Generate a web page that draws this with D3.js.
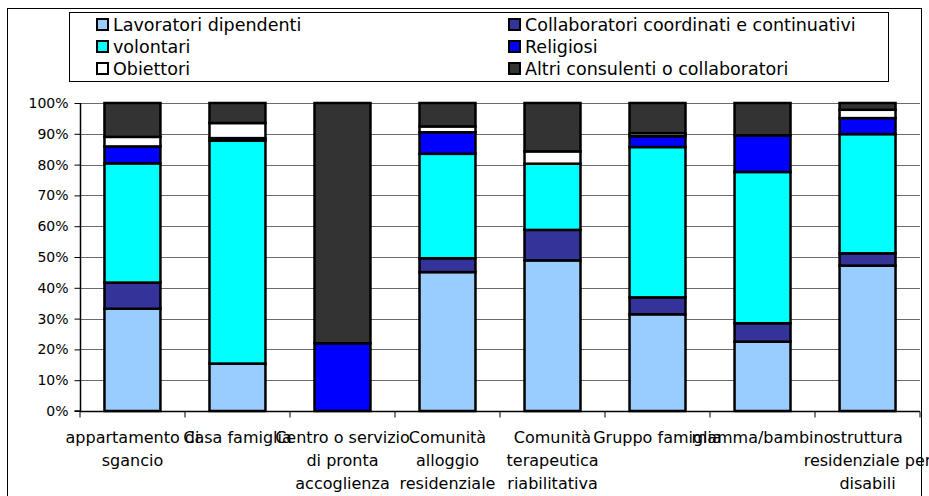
<!DOCTYPE html>
<html><head><meta charset="utf-8">
<script src="https://cdn.jsdelivr.net/npm/d3@7"></script>
<style>body{margin:0;background:#fff}svg{display:block}text{font-family:"DejaVu Sans",sans-serif}</style>
</head><body><svg id="c" width="929" height="496"></svg>
<script>
const categories = [
  ["appartamento di","sgancio"],
  ["Casa famiglia"],
  ["Centro o servizio","di pronta","accoglienza"],
  ["Comunità","alloggio","residenziale"],
  ["Comunità","terapeutica","riabilitativa"],
  ["Gruppo famiglia"],
  ["mamma/bambino"],
  ["struttura","residenziale per","disabili"]
];
const seriesNames = ["Lavoratori dipendenti","Collaboratori coordinati e continuativi","volontari","Religiosi","Obiettori","Altri consulenti o collaboratori"];
const seriesColors = ["#99CCFF","#333399","#00FFFF","#0000FF","#FFFFFF","#333333"];
const lavoratori    = [33.2, 15.4, 0, 45.1, 48.9, 31.4, 22.5, 47.2];
const collaboratori = [8.5, 0, 0, 4.5, 9.9, 5.5, 6.0, 4.0];
const volontari     = [38.7, 72.4, 0, 33.9, 21.5, 48.8, 49.1, 38.7];
const religiosi     = [5.5, 0.8, 22.0, 7.0, 0, 3.5, 11.9, 5.2];
const obiettori     = [3.1, 4.9, 0, 1.9, 4.0, 1.0, 0, 2.7];
const altri         = [11.0, 6.5, 78.0, 7.6, 15.7, 9.8, 10.5, 2.2];
const yTicks = [0,10,20,30,40,50,60,70,80,90,100];

const seriesValues = [lavoratori, collaboratori, volontari, religiosi, obiettori, altri];
const keys = seriesNames;
const rows = categories.map((c,i)=>{
  const r = {idx:i};
  keys.forEach((k,j)=> r[k]=seriesValues[j][i]);
  return r;
});
const stack = d3.stack().keys(keys).offset(d3.stackOffsetExpand)(rows);

const svg = d3.select("#c");
// outer frame
svg.append("rect").attr("x",7.5).attr("y",8.5).attr("width",914).attr("height",500)
  .attr("fill","none").attr("stroke","#000").attr("stroke-width",1);

const L=80,R=920,T=103,B=411;
const x = d3.scaleBand().domain(d3.range(categories.length)).range([L,R]).paddingInner(0.467).paddingOuter(0.233);
const xOuter = d3.scaleBand().domain(d3.range(categories.length)).range([L,R]);
const y = d3.scaleLinear().domain([0,1]).range([B,T]);

// gridlines
svg.append("g").selectAll("line").data(yTicks.filter(t=>t>0)).join("line")
  .attr("x1",L).attr("x2",R).attr("y1",d=>Math.round(y(d/100))+0.5).attr("y2",d=>Math.round(y(d/100))+0.5)
  .attr("stroke","#6b6b6b").attr("stroke-width",1);

// bars
const g = svg.append("g");
stack.forEach((s,j)=>{
  g.append("g").selectAll("rect").data(s.filter(d=>d[1]-d[0]>0)).join("rect")
    .attr("x",d=>x(d.data.idx)).attr("width",x.bandwidth())
    .attr("y",d=>y(d[1])).attr("height",d=>y(d[0])-y(d[1]))
    .attr("fill",seriesColors[j]).attr("stroke","#000").attr("stroke-width",2.5);
});

// y axis
const ya = svg.append("g").attr("transform",`translate(${L+0.5},0)`)
  .call(d3.axisLeft(y).tickValues(yTicks.map(t=>t/100)).tickFormat(d=>Math.round(d*100)+"%").tickSize(6).tickPadding(6));
ya.select(".domain").attr("stroke","#000").attr("stroke-width",1.5).attr("d",`M-6,${B}H0V${T}`);
ya.selectAll(".tick line").attr("stroke","#000");
ya.selectAll("text").attr("font-size",14).attr("fill","#000").attr("font-family","DejaVu Sans");

// x axis
const xa = svg.append("g").attr("transform",`translate(0,${B+0.5})`);
xa.append("line").attr("x1",L).attr("x2",R).attr("stroke","#000").attr("stroke-width",1.5);
xa.selectAll("line.t").data(d3.range(categories.length+1)).join("line").attr("class","t")
  .attr("x1",i=>L+i*xOuter.step()).attr("x2",i=>L+i*xOuter.step()).attr("y1",0).attr("y2",6).attr("stroke","#000");
const labs = svg.append("g");
categories.forEach((lines,i)=>{
  const cx = xOuter(i)+xOuter.bandwidth()/2;
  const t = labs.append("text").attr("text-anchor","middle").attr("font-size",16).attr("fill","#000");
  lines.forEach((ln,k)=> t.append("tspan").attr("x",cx).attr("y",443+k*23).text(ln));
});

// legend
const lg = svg.append("g");
lg.append("rect").attr("x",69.5).attr("y",12.5).attr("width",819).attr("height",69)
  .attr("fill","#fff").attr("stroke","#000").attr("stroke-width",1);
seriesNames.forEach((n,j)=>{
  const col = j%2, row = Math.floor(j/2);
  const sx = col===0 ? 97 : 509, sy = 19 + row*22;
  lg.append("rect").attr("x",sx).attr("y",sy).attr("width",11).attr("height",11)
    .attr("fill",seriesColors[j]).attr("stroke","#000").attr("stroke-width",2);
  lg.append("text").attr("x",sx+16).attr("y",sy+11.5).attr("font-size",17.5).attr("fill","#000").text(n);
});
</script></body></html>
